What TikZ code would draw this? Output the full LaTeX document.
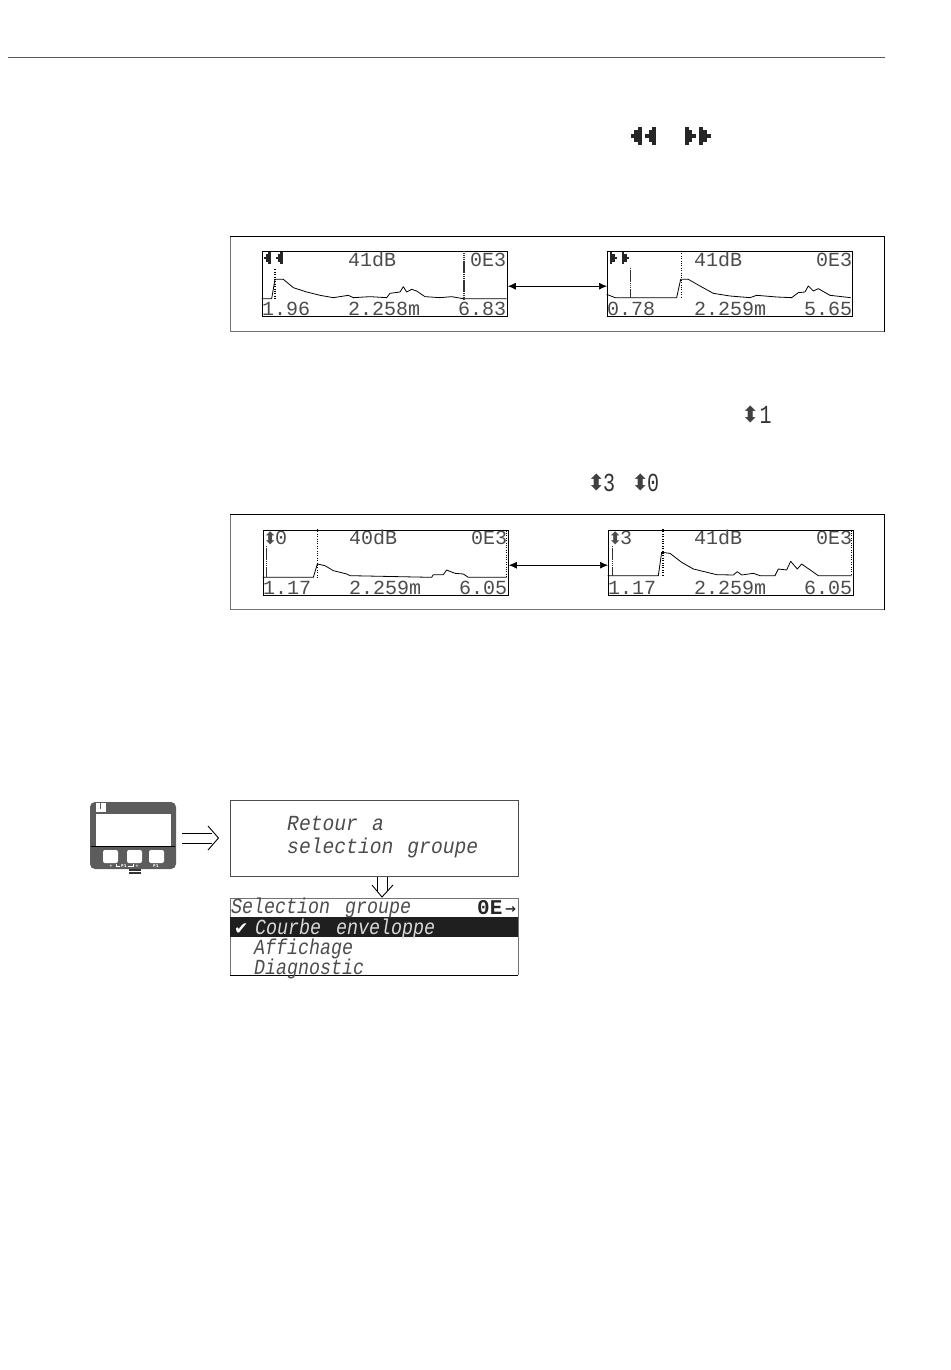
\documentclass[tikz,border=0pt]{standalone}
\usepackage{fontspec}
\setmainfont{Liberation Mono}
\newfontfamily\lcdfont{Liberation Mono}
\newfontfamily\lcdtall[FakeStretch=0.77]{Liberation Mono}
\newfontfamily\itA[FakeStretch=0.853]{Liberation Mono Italic}
\newfontfamily\itB[FakeStretch=0.915]{Liberation Mono Italic}
\newfontfamily\symfont{DejaVu Sans}
\usetikzlibrary{arrows.meta}
\definecolor{lcdtext}{gray}{0.3}
\definecolor{framec}{gray}{0.45}
\definecolor{devc}{gray}{0.36}
\tikzset{
  lcd/.style={inner sep=0pt,anchor=base west,text=lcdtext,font=\lcdfont\fontsize{20}{21}\selectfont},
  lcdhigh/.style={inner sep=0pt,anchor=base west,text=black!80,font=\lcdtall\fontsize{26}{27}\selectfont},
  lcdit/.style={inner sep=0pt,anchor=base west,text=lcdtext,font=\itA\fontsize{21.5}{22}\selectfont},
  lcdib/.style={inner sep=0pt,anchor=base west,text=lcdtext,font=\itB\fontsize{21.5}{22}\selectfont},
  updown/.style={inner sep=0pt,anchor=base west,text=lcdtext,font=\symfont\fontsize{17}{18}\selectfont},
  updownbig/.style={inner sep=0pt,anchor=base west,text=black!75,font=\symfont\fontsize{22}{23}\selectfont},
  outerframe/.style={draw=framec,line width=0.8pt,fill=white,inner sep=0pt,minimum width=654pt,minimum height=95pt,anchor=north west},
  screenbox/.style={draw=black,line width=0.9pt,inner sep=0pt,minimum width=245pt,minimum height=64.5pt,anchor=north west},
  link/.style={draw=black,line width=0.7pt,{Latex[length=8pt,width=7pt]}-{Latex[length=8pt,width=7pt]}},
  curve/.style={draw=black,line width=0.8pt,line join=round},
  dotv/.style={draw=black,line width=1.1pt,dash pattern=on 1pt off 1.4pt},
  solv/.style={draw=black!80,line width=1.3pt,dash pattern=on 1.5pt off .4pt},
  hollow/.style={draw=black,line width=0.9pt},
  glyph/.style={fill=black!85,draw=none},
}
% stepped triangle: #1 x of tip edge, #2 y centre, #3 direction (+1 widens to the right, -1 to the left), #4 pitch
\newcommand{\pixtri}[4]{%
  \fill[glyph] (#1,{#2-0.5*#4}) rectangle ({#1+#3*#4},{#2+0.5*#4});
  \fill[glyph] ({#1+#3*#4},{#2-1.5*#4}) rectangle ({#1+2*#3*#4},{#2+1.5*#4});
  \fill[glyph] ({#1+2*#3*#4},{#2-2.5*#4}) rectangle ({#1+3*#3*#4},{#2+2.5*#4});}
\begin{document}
\begin{tikzpicture}[x=1pt,y=-1pt]
\useasboundingbox (0,0) rectangle (950,1370);
\fill[white] (0,0) rectangle (950,1370);
\draw[draw=black!65,line width=0.8pt] (8,57) -- (885,57);

% in-text glyphs, top
\pixtri{630.5}{136}{1}{3.7}
\pixtri{645}{136}{1}{3.7}
\pixtri{696}{136}{-1}{3.7}
\pixtri{710.5}{136}{-1}{3.7}
\node[updownbig] (sym1a) at (741,422) {⬍};
\node[lcdhigh] (sym1) at (759.5,423) {1};
\node[updownbig] (sym3a) at (587,490) {⬍};
\node[lcdhigh] (sym3) at (603,491) {3};
\node[updownbig] (sym0a) at (631,490) {⬍};
\node[lcdhigh] (sym0) at (647,491) {0};

% ---- panel 1
\node[outerframe] (f1) at (230,236) {};
\draw[black,line width=0.9pt] (f1.north west)--(f1.north east)--(f1.south east);
\node[screenbox] (s1) at (262,251) {};
\node[screenbox] (s2) at (607,251) {};
\draw[link] ([yshift=-2.5pt]s1.east) -- ([yshift=-2.5pt]s2.west);
\begin{scope}[shift={(230,236)},x=0.3333pt,y=-0.3333pt]
\draw[curve] (95,188)--(125,188)--(135,130)--(160,130)--(190,155)--(230,168)--(270,178)--(310,185)--(355,178)--(370,185)--(420,182)--(470,185)--(480,172)--(510,168)--(520,152)--(530,168)--(545,160)--(560,165)--(585,182)--(630,185)--(665,182)--(700,188)--(830,188);
\draw[dotv] (135,100)--(135,188);
\draw[solv] (702,45)--(702,190);
\end{scope}
\pixtri{263.5}{258}{1}{2.4}
\pixtri{275.5}{258}{1}{2.4}
\node[lcd] (t1a) at (348,266) {41dB};
\node[lcd] (t1b) at (470,266) {0E3};
\node[lcd] (t1c) at (262,315) {1.96};
\node[lcd] (t1d) at (348,315) {2.258m};
\node[lcd] (t1e) at (458,315) {6.83};
\begin{scope}[shift={(560,236)},x=0.3333pt,y=-0.3333pt]
\draw[curve] (140,175)--(165,185)--(350,185)--(362,130)--(385,130)--(420,150)--(460,172)--(510,180)--(570,185)--(590,178)--(650,183)--(695,185)--(715,170)--(735,168)--(745,150)--(760,165)--(775,158)--(810,178)--(872,185);
\draw[solv] (212,95)--(212,185);
\draw[dotv] (364,45)--(364,185);
\end{scope}
\pixtri{617}{258}{-1}{2.4}
\pixtri{629}{258}{-1}{2.4}
\node[lcd] (t2a) at (694,266) {41dB};
\node[lcd] (t2b) at (816,266) {0E3};
\node[lcd] (t2c) at (607,315) {0.78};
\node[lcd] (t2d) at (694,315) {2.259m};
\node[lcd] (t2e) at (804,315) {5.65};

% ---- panel 2
\node[outerframe] (f2) at (230,514) {};
\draw[black,line width=0.9pt] (f2.north west)--(f2.north east)--(f2.south east);
\node[screenbox] (s3) at (263,530) {};
\node[screenbox] (s4) at (608,530) {};
\draw[link] ([yshift=-2.5pt]s3.east) -- ([yshift=-2.5pt]s4.west);
\begin{scope}[shift={(230,514)},x=0.3333pt,y=-0.3333pt]
\draw[curve] (98,190)--(250,190)--(262,150)--(285,155)--(310,170)--(350,180)--(360,185)--(605,190)--(610,182)--(640,182)--(650,168)--(675,178)--(700,180)--(715,190)--(830,190);
\draw[dotv] (262,45)--(262,190);
\draw[dotv] (830,50)--(830,190);
\draw[solv] (109,95)--(109,190);
\end{scope}
\node[updown] (t3y) at (263,544) {⬍};
\node[lcd] (t3z) at (275,544) {0};
\node[lcd] (t3a) at (349,544) {40dB};
\node[lcd] (t3b) at (471,544) {0E3};
\node[lcd] (t3c) at (263,594) {1.17};
\node[lcd] (t3d) at (349,594) {2.259m};
\node[lcd] (t3e) at (459,594) {6.05};
\begin{scope}[shift={(560,514)},x=0.3333pt,y=-0.3333pt]
\draw[curve] (143,185)--(295,185)--(305,115)--(330,118)--(365,145)--(400,165)--(470,182)--(520,183)--(532,173)--(545,183)--(580,178)--(600,185)--(645,185)--(655,165)--(680,168)--(692,142)--(712,165)--(725,150)--(775,185)--(875,185);
\draw[dotv] (309,45)--(309,185);
\draw[dotv] (875,50)--(875,185);
\draw[solv] (157,95)--(157,185);
\end{scope}
\node[updown] (t4y) at (608,544) {⬍};
\node[lcd] (t4z) at (620,544) {3};
\node[lcd] (t4a) at (694,544) {41dB};
\node[lcd] (t4b) at (816,544) {0E3};
\node[lcd] (t4c) at (608,594) {1.17};
\node[lcd] (t4d) at (694,594) {2.259m};
\node[lcd] (t4e) at (804,594) {6.05};

% ---- device
\fill[devc,rounded corners=5pt] (90,802) rectangle (176,869);
\fill[white] (96,814) rectangle (171,846);
\draw[black,line width=1pt] (91,846.5) -- (175,846.5);
\fill[white] (96,803) rectangle (106,812);
\fill[devc] (100,803) rectangle (101,809);
\fill[white,rounded corners=2pt] (103,850) rectangle (118,863);
\fill[white,rounded corners=2pt] (127,850) rectangle (142,863);
\fill[white,rounded corners=2pt] (149,850) rectangle (164,863);
\draw[white,line width=0.7pt] (116,864)--(116,866.5)--(120,866.5);
\draw[white,line width=0.7pt] (128,866.5)--(133,866.5)--(133,864);
\node[inner sep=0pt,text=white,font=\symfont\bfseries\fontsize{4}{4}\selectfont] (kf) at (124,866.5) {F1};
\node[inner sep=0pt,text=white,font=\symfont\bfseries\fontsize{4}{4}\selectfont] (kp) at (111,866.5) {+};
\node[inner sep=0pt,text=white,font=\symfont\bfseries\fontsize{4}{4}\selectfont] (km) at (137,866.5) {+};
\node[inner sep=0pt,text=white,font=\symfont\bfseries\fontsize{4}{4}\selectfont] (kg) at (156,866.5) {F1};
\fill[black!80] (129,869) rectangle (141,874);
\fill[white] (129,870.7) rectangle (141,871.5);

% ---- text boxes
\node[draw=black!70,line width=0.8pt,inner sep=0pt,minimum width=288pt,minimum height=76pt,anchor=north west] (retour) at (230,800) {};
\node[lcdib] (r1) at (287,830) {Retour\hspace{14pt}a};
\node[lcdib] (r2) at (287,853) {selection\hspace{14pt}groupe};
\draw[hollow] (182,833)--(212,833) (182,843)--(212,843);
\draw[hollow] (208,826)--(218.5,838)--(208,850);
\draw[hollow] (377,877)--(377,891) (387,877)--(387,891);
\draw[hollow] (372,885)--(382,897)--(393,885);

% menu
\node[draw=none,inner sep=0pt,minimum width=288pt,minimum height=77pt,anchor=north west] (menu) at (230,898) {};
\draw[black!55,line width=0.7pt] (menu.south west)--(menu.north west)--(menu.north east)--(menu.south east);
\draw[black,line width=0.9pt] (menu.south west)--(menu.south east);
\fill[black!88] (230,917) rectangle (518,937);
\node[lcdit] (m0) at (231,913.5) {Selection\hspace{15pt}groupe};
\node[lcd,font=\lcdfont\bfseries\fontsize{21}{22}\selectfont,text=black!85] (m0b) at (477,914) {0E};
\node[inner sep=0pt,anchor=base west,font=\symfont\bfseries\fontsize{13}{14}\selectfont,text=black!85] (m0c) at (505,913) {→};
\node[inner sep=0pt,anchor=base west,font=\symfont\fontsize{17}{18}\selectfont,text=white] (mchk) at (234,934) {✔};
\node[lcdit,text=white!85!black] (m1) at (255,934) {Courbe\hspace{15pt}enveloppe};
\node[lcdit] (m2) at (254,954) {Affichage};
\node[lcdit] (m3) at (254,974.5) {Diagnostic};
\end{tikzpicture}
\end{document}
